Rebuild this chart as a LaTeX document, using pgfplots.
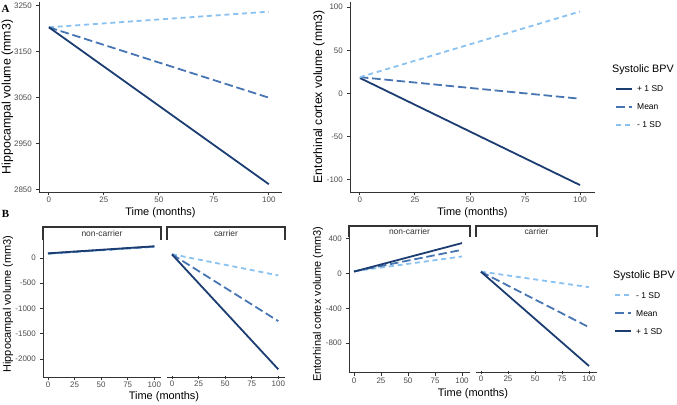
\documentclass[border=0pt]{standalone}
\usepackage{pgfplots}
\pgfplotsset{compat=1.18}
\usepackage{fontspec}
\setmainfont{Liberation Sans}
\newfontfamily\lserif{Liberation Serif}
\definecolor{cdark}{HTML}{1C3D72}
\definecolor{cmid}{HTML}{4775B2}
\definecolor{clight}{HTML}{89C1F0}
\definecolor{tickgray}{HTML}{4D4D4D}
\definecolor{axgray}{HTML}{333333}
\pgfplotsset{
  gg/.style={
    scale only axis,
    clip=false,
    axis lines=left,
    axis line style={-, axgray, line width=1bp},
    tick align=outside,
    major tick length=3bp,
    tick style={axgray, line width=0.9bp},
    xtick={0,25,50,75,100},
    scaled ticks=false,
    /pgf/number format/1000 sep={},
    /pgf/number format/assume math mode=true,
    tick label style={font=\fontsize{8}{9}\selectfont, text=tickgray},
    yticklabel style={anchor=east, inner sep=0pt, xshift=-4bp},
    xticklabel style={anchor=north, inner sep=0pt, yshift=-2bp},
    every axis x label/.style={font=\fontsize{11}{12}\selectfont, anchor=center},
    every axis y label/.style={font=\fontsize{11}{12}\selectfont, anchor=center, rotate=90},
    legend image code/.code={\draw[#1] (0bp,0bp) -- (16bp,0bp);},
    legend cell align=left,
  },
  ggright/.style={gg, axis x line=bottom, axis y line=none, ytick=\empty,
    axis line style={-, axgray, line width=1bp}, x axis line style={-}},
  sd1/.style={cdark, line width=1.8bp},
  smean/.style={cmid, line width=1.8bp, dash pattern=on 8.5bp off 3.8bp},
  sm1/.style={clight, line width=1.8bp, dash pattern=on 5bp off 3.8bp},
  gglegend/.style={legend style={draw=none, fill=none, at={#1}, anchor=west,
    inner sep=0pt, row sep=10.5bp, column sep=4bp,
    font=\fontsize{8.5}{10}\selectfont,
    nodes={inner sep=0pt, text height=6.3bp, text depth=1.2bp}},
    legend image post style={line width=2bp}},
}
\begin{document}
\begin{tikzpicture}[x=1bp, y=1bp]
\path[use as bounding box] (0,0) rectangle (677,404);

% ---------- Panel A left ----------
\begin{axis}[gg, at={(39bp,212bp)}, anchor=south west, width=243bp, height=190bp,
  xmin=-4.5, xmax=106, ymin=2845, ymax=3258,
  ytick={2850,2950,3050,3150,3250},
  xlabel={Time (months)}, ylabel={Hippocampal volume (mm3)},
  xlabel style={at={(axis description cs:0.5,-0.1105)}},
  ylabel style={at={(axis description cs:-0.1296,0.5)}, font=\fontsize{12.4}{13}\selectfont}]
\addplot[sm1] coordinates {(0,3203) (100,3237)};
\addplot[smean] coordinates {(0,3203) (100,3050)};
\addplot[sd1] coordinates {(0,3203) (100,2862)};
\end{axis}

% ---------- Panel A right ----------
\begin{axis}[gg, at={(350bp,212bp)}, anchor=south west, width=245bp, height=190bp,
  xmin=-4.5, xmax=106.8, ymin=-114, ymax=106,
  ytick={-100,-50,0,50,100},
  xlabel={Time (months)}, ylabel={Entorhinal cortex volume (mm3)},
  xlabel style={at={(axis description cs:0.5,-0.1105)}},
  ylabel style={at={(axis description cs:-0.1265,0.5)}, font=\fontsize{12.2}{13}\selectfont},
  gglegend={(axis description cs:1.0816,0.4458)}]
\addplot[sd1] coordinates {(0,18) (100,-106)};
\addlegendentry{+ 1 SD}
\addplot[smean] coordinates {(0,19) (100,-6)};
\addlegendentry{Mean}
\addplot[sm1] coordinates {(0,19) (100,95)};
\addlegendentry{- 1 SD}
\node[anchor=west, inner sep=0pt, font=\fontsize{10.8}{12}\selectfont] at (axis description cs:1.069,0.642) {Systolic BPV};
\end{axis}

% ---------- Panel B left: non-carrier ----------
\begin{axis}[gg, at={(43bp,27bp)}, anchor=south west, width=118bp, height=137bp,
  xmin=-4.7, xmax=106.3, ymin=-2356, ymax=356,
  ytick={-2000,-1500,-1000,-500,0},
  xlabel={Time (months)}, ylabel={Hippocampal volume (mm3)},
  xlabel style={at={(axis description cs:1.0254,-0.1438)}},
  ylabel style={at={(axis description cs:-0.2966,0.533)}}]
\addplot[sm1] coordinates {(0,84) (100,220)};
\addplot[smean] coordinates {(0,88) (100,226)};
\addplot[sd1] coordinates {(0,92) (100,232)};
\end{axis}
% ---------- Panel B left: carrier ----------
\begin{axis}[ggright, at={(167bp,27bp)}, anchor=south west, width=118bp, height=137bp,
  xmin=-4.7, xmax=106.3, ymin=-2356, ymax=356]
\addplot[sm1] coordinates {(0,75) (100,-345)};
\addplot[smean] coordinates {(0,72) (100,-1250)};
\addplot[sd1] coordinates {(0,70) (100,-2204)};
\end{axis}

% ---------- Panel B right: non-carrier ----------
\begin{axis}[gg, at={(349bp,31.3bp)}, anchor=south west, width=121bp, height=135.7bp,
  xmin=-4.6, xmax=107.4, ymin=-1141, ymax=420,
  ytick={-800,-400,0,400},
  xlabel={Time (months)}, ylabel={Entorhinal cortex volume (mm3)},
  xlabel style={at={(axis description cs:1.0248,-0.157)}},
  ylabel style={at={(axis description cs:-0.256,0.506)}}]
\addplot[sm1] coordinates {(0,26) (100,196)};
\addplot[smean] coordinates {(0,24) (100,273)};
\addplot[sd1] coordinates {(0,22) (100,350)};
\end{axis}
% ---------- Panel B right: carrier ----------
\begin{axis}[ggright, at={(476bp,31.3bp)}, anchor=south west, width=121bp, height=135.7bp,
  xmin=-4.6, xmax=107.4, ymin=-1141, ymax=420,
  gglegend={(axis description cs:1.1405,0.4363)}]
\addplot[sm1] coordinates {(0,22) (100,-157)};
\addlegendentry{- 1 SD}
\addplot[smean] coordinates {(0,20) (100,-618)};
\addlegendentry{Mean}
\addplot[sd1] coordinates {(0,20) (100,-1064)};
\addlegendentry{+ 1 SD}
\node[anchor=west, inner sep=0pt, font=\fontsize{10.8}{12}\selectfont] at (axis description cs:1.132,0.7126) {Systolic BPV};
\end{axis}

% ---------- strips ----------
\begin{scope}[axgray, line width=1.1bp]
\draw (43,164) -- (43,177) -- (161,177) -- (161,164);
\draw (167,164) -- (167,177) -- (285,177) -- (285,164);
\draw (349,167) -- (349,178) -- (470,178) -- (470,167);
\draw (476,167) -- (476,178) -- (597,178) -- (597,167);
\end{scope}
\begin{scope}[font=\fontsize{8.5}{9}\selectfont, text=axgray, inner sep=0pt]
\node at (102,170.5) {non-carrier};
\node at (226,170.5) {carrier};
\node at (409.5,172.5) {non-carrier};
\node at (536.5,172.5) {carrier};
\end{scope}

% ---------- panel tags ----------
\node[font=\lserif\bfseries\fontsize{11}{12}\selectfont, inner sep=0pt] at (5.5,395.5) {A};
\node[font=\lserif\bfseries\fontsize{11}{12}\selectfont, inner sep=0pt] at (5.5,190) {B};
\end{tikzpicture}
\end{document}
